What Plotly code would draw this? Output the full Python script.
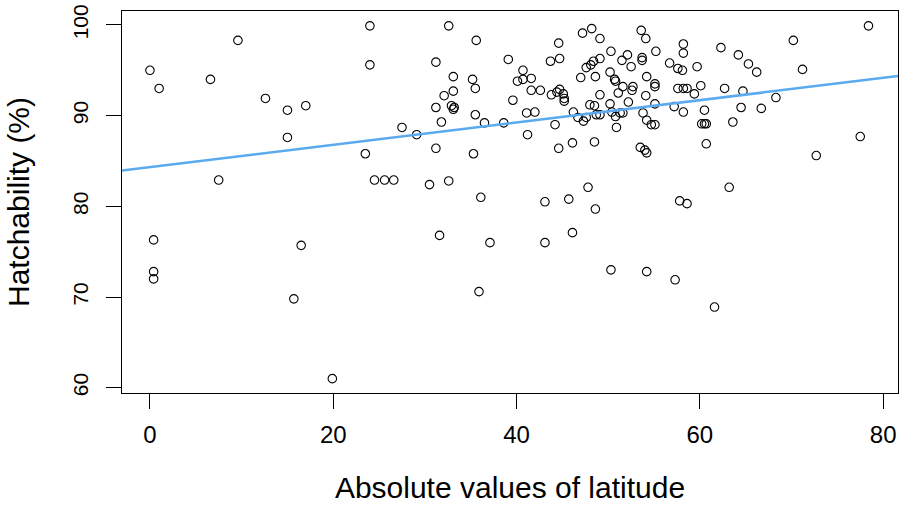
import plotly.graph_objects as go

# Absolute latitude (x) and hatchability % (y)
latitude = [
    0.0, 1.0, 6.6, 9.6, 12.6, 15.0, 17.0, 15.0, 7.5, 24.0,
    24.0, 23.5, 24.5, 0.4, 0.4, 0.4, 16.5, 15.7, 19.9, 25.6,
    26.6, 27.5, 29.1, 30.5, 31.2, 31.2, 31.2, 31.6, 31.8, 32.1,
    32.6, 32.6, 32.9, 33.2, 33.1, 33.1, 33.1, 35.2, 35.5, 35.6,
    35.5, 35.3, 35.9, 36.1, 36.5, 37.1, 38.6, 39.1, 39.6, 40.1,
    40.7, 40.7, 41.6, 41.6, 42.6, 41.1, 42.0, 41.2, 43.1, 43.1,
    43.7, 44.7, 44.6, 43.8, 44.4, 44.7, 45.1, 45.2, 45.2, 44.2,
    44.6, 45.7, 46.1, 46.1, 46.2, 46.7, 47.3, 47.6, 48.0, 48.5,
    48.7, 49.1, 48.5, 47.0, 47.6, 48.1, 48.4, 48.6, 49.1, 47.2,
    48.2, 49.1, 49.1, 47.8, 48.6, 50.2, 50.4, 50.8, 51.3, 51.6,
    50.9, 50.3, 50.2, 50.7, 50.8, 51.5, 52.1, 52.5, 51.1, 51.6,
    52.6, 52.7, 52.2, 53.6, 54.1, 53.7, 53.7, 54.2, 54.1, 53.8,
    54.2, 54.7, 53.5, 54.0, 54.2, 50.3, 54.2, 55.2, 55.1, 55.1,
    55.1, 55.1, 56.7, 57.6, 58.1, 58.2, 58.2, 57.6, 58.2, 58.6,
    59.4, 57.2, 58.2, 57.3, 57.8, 58.6, 59.7, 60.1, 60.5, 60.2,
    60.5, 60.7, 60.7, 61.6, 62.3, 62.7, 63.2, 63.6, 64.2, 64.5,
    64.7, 65.3, 66.2, 66.7, 68.3, 70.2, 71.2, 72.7, 77.5, 78.4,
]
hatchability = [
    95.0, 93.0, 94.0, 98.3, 91.9, 90.6, 91.1, 87.6, 82.9, 99.9,
    95.6, 85.8, 82.9, 76.3, 72.8, 72.0, 75.7, 69.8, 61.0, 82.9,
    82.9, 88.7, 87.9, 82.4, 95.9, 90.9, 86.4, 76.8, 89.3, 92.2,
    99.9, 82.8, 91.1, 90.9, 90.7, 94.3, 92.7, 94.0, 93.0, 98.3,
    90.1, 85.8, 70.6, 81.0, 89.2, 76.0, 89.2, 96.2, 91.7, 93.8,
    94.0, 95.0, 94.1, 92.8, 92.8, 90.3, 90.4, 87.9, 80.5, 76.0,
    96.0, 96.3, 98.0, 92.3, 92.6, 92.9, 92.4, 91.9, 91.6, 89.0,
    86.4, 80.8, 77.1, 87.0, 90.4, 89.8, 89.4, 89.8, 91.2, 91.1,
    90.1, 90.1, 87.1, 94.2, 95.3, 95.6, 96.0, 94.3, 96.3, 99.1,
    99.6, 98.5, 92.3, 82.1, 79.7, 91.3, 90.4, 89.9, 90.3, 90.3,
    88.7, 97.1, 94.8, 94.0, 93.8, 96.1, 96.7, 95.4, 92.5, 93.2,
    92.8, 93.2, 91.5, 99.4, 98.5, 96.4, 96.1, 94.3, 92.2, 90.3,
    89.5, 89.0, 86.5, 86.2, 85.9, 73.0, 72.8, 97.1, 93.5, 93.2,
    91.3, 89.0, 95.8, 95.2, 95.0, 97.9, 96.9, 93.0, 93.0, 93.0,
    92.4, 91.0, 90.4, 71.9, 80.6, 80.3, 95.4, 93.3, 90.6, 89.1,
    89.1, 89.1, 86.9, 68.9, 97.5, 93.0, 82.1, 89.3, 96.7, 90.9,
    92.7, 95.7, 94.8, 90.8, 92.0, 98.3, 95.1, 85.6, 87.7, 99.9,
]

# Fitted regression line (intercept, slope) as drawn in the reference
fit_intercept = 84.32
fit_slope = 0.1232

x_ticks = [0, 20, 40, 60, 80]
y_ticks = [60, 70, 80, 90, 100]
x_range = [-3.05, 81.62]
y_range = [59.42, 101.54]

fit_x = x_range
fit_y = [fit_intercept + fit_slope * v for v in fit_x]

FONT = "Liberation Sans, Arial, sans-serif"

fig = go.Figure()
fig.add_trace(go.Scatter(
    x=latitude, y=hatchability, mode="markers",
    marker=dict(symbol="circle-open", size=8.5, color="black",
                line=dict(color="black", width=1.1)),
    showlegend=False, hoverinfo="x+y",
))
fig.add_trace(go.Scatter(
    x=fit_x, y=fit_y, mode="lines",
    line=dict(color="#5AAAF0", width=2.6),
    showlegend=False,
))

fig.update_layout(
    width=902, height=507,
    paper_bgcolor="white", plot_bgcolor="white",
    margin=dict(l=122, r=4, t=11, b=114),
    font=dict(family=FONT, color="black"),
    xaxis=dict(
        range=x_range, tickvals=x_ticks, ticktext=[str(v) for v in x_ticks],
        showgrid=False, zeroline=False,
        showline=True, mirror=True, linecolor="black", linewidth=1,
        ticks="outside", ticklen=15, tickwidth=1, tickcolor="black",
        tickfont=dict(size=24, family=FONT, color="black"),
        ticklabelstandoff=5,
        title=dict(text="Absolute values of latitude",
                   font=dict(size=30, family=FONT, color="black"),
                   standoff=30),
        automargin=False,
    ),
    yaxis=dict(
        range=y_range, tickvals=y_ticks, ticktext=[str(v) for v in y_ticks],
        showgrid=False, zeroline=False,
        showline=True, mirror=True, linecolor="black", linewidth=1,
        ticks="outside", ticklen=15, tickwidth=1, tickcolor="black",
        tickangle=-90,
        tickfont=dict(size=21, family=FONT, color="black"),
        ticklabelstandoff=10,
        title=dict(text="Hatchability (%)",
                   font=dict(size=30, family=FONT, color="black"),
                   standoff=30),
        automargin=False,
    ),
)

fig.write_html(
    "out.html",
    config={"displayModeBar": False},
    post_script="document.body.style.margin='0';document.body.style.padding='0';",
)
